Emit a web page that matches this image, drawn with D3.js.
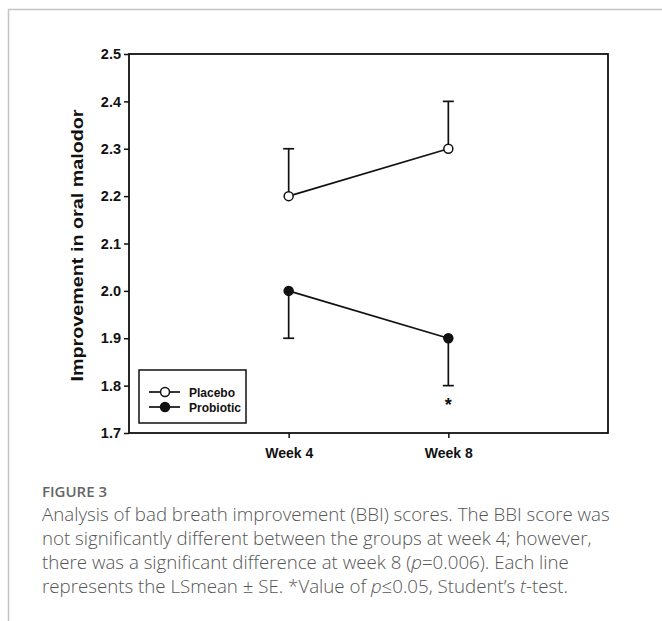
<!DOCTYPE html>
<html>
<head>
<meta charset="utf-8">
<script src="https://cdn.jsdelivr.net/npm/d3@7"></script>
<style>
  html, body { margin: 0; padding: 0; background: #fff; }
  svg { display: block; }
</style>
</head>
<body>
<svg id="chart" width="662" height="621"></svg>
<script>
const weeks = ["Week 4", "Week 8"];
const weekPos = [1, 2];
const placeboMean = [2.2, 2.3];
const placeboSE = [0.1, 0.1];
const probioticMean = [2.0, 1.9];
const probioticSE = [0.1, 0.1];
const yTicks = [1.7, 1.8, 1.9, 2.0, 2.1, 2.2, 2.3, 2.4, 2.5];
const seriesNames = ["Placebo", "Probiotic"];
const captionTitle = "FIGURE 3";

const svg = d3.select("#chart");

// outer figure frame
svg.append("path").attr("d", "M8.5,621 V9.5 H662")
  .attr("fill", "none").attr("stroke", "#c4c4c4").attr("stroke-width", 1.5);

const L = 129, R = 608, T = 54, B = 433;
const x = d3.scaleLinear().domain([0, 3]).range([L, R]);
const y = d3.scaleLinear().domain([1.7, 2.5]).range([B, T]);

const font = "Liberation Sans, Arial, sans-serif";

// frame box
svg.append("rect").attr("x", L).attr("y", T).attr("width", R - L).attr("height", B - T)
  .attr("fill", "none").attr("stroke", "#111").attr("stroke-width", 1.8);

// y axis
const yAxis = svg.append("g").attr("transform", `translate(${L},0)`)
  .call(d3.axisLeft(y).tickValues(yTicks).tickFormat(d3.format(".1f")).tickSize(5).tickPadding(3));
yAxis.select(".domain").remove();
yAxis.selectAll("line").attr("stroke", "#111").attr("stroke-width", 1.5);
yAxis.selectAll("text").style("font-family", font).style("font-size", "14.5px").style("font-weight", "bold").attr("fill", "#111");

// x axis
const xAxis = svg.append("g").attr("transform", `translate(0,${B})`)
  .call(d3.axisBottom(x).tickValues(weekPos).tickFormat((d, i) => weeks[i]).tickSize(5).tickPadding(10));
xAxis.select(".domain").remove();
xAxis.selectAll("line").attr("stroke", "#111").attr("stroke-width", 1.5);
xAxis.selectAll("text").style("font-family", font).style("font-size", "14px").style("font-weight", "bold").attr("fill", "#111");

// y title
svg.append("text")
  .attr("transform", `translate(${83},${(T + B) / 2 + 2}) rotate(-90)`)
  .attr("text-anchor", "middle")
  .style("font-family", font).style("font-size", "16px").style("font-weight", "bold").attr("fill", "#111")
  .attr("textLength", 272).attr("lengthAdjust", "spacingAndGlyphs")
  .text("Improvement in oral malodor");

const series = [
  { name: seriesNames[0], mean: placeboMean, se: placeboSE, dir: -1, fill: "#fff" },
  { name: seriesNames[1], mean: probioticMean, se: probioticSE, dir: 1, fill: "#111" }
];

const line = d3.line().x((d, i) => x(weekPos[i])).y(d => y(d));
const cap = 5.5;

series.forEach(s => {
  const g = svg.append("g");
  s.mean.forEach((m, i) => {
    const end = s.dir < 0 ? m + s.se[i] : m - s.se[i];
    g.append("line").attr("x1", x(weekPos[i])).attr("x2", x(weekPos[i]))
      .attr("y1", y(m)).attr("y2", y(end)).attr("stroke", "#111").attr("stroke-width", 1.7);
    g.append("line").attr("x1", x(weekPos[i]) - cap).attr("x2", x(weekPos[i]) + cap)
      .attr("y1", y(end)).attr("y2", y(end)).attr("stroke", "#111").attr("stroke-width", 1.7);
  });
  g.append("path").attr("d", line(s.mean)).attr("fill", "none").attr("stroke", "#111").attr("stroke-width", 1.7);
  s.mean.forEach((m, i) => {
    g.append("circle").attr("cx", x(weekPos[i])).attr("cy", y(m)).attr("r", 4.5)
      .attr("fill", s.fill).attr("stroke", "#111").attr("stroke-width", 1.5);
  });
});

// significance asterisk
svg.append("text").attr("x", x(weekPos[1])).attr("y", y(probioticMean[1] - probioticSE[1]) + 25)
  .attr("text-anchor", "middle").style("font-family", font).style("font-size", "18px").style("font-weight", "bold")
  .attr("fill", "#111").text("*");

// legend
const lg = svg.append("g");
lg.append("rect").attr("x", 139).attr("y", 370).attr("width", 107).attr("height", 53)
  .attr("fill", "#fff").attr("stroke", "#111").attr("stroke-width", 1.5);
series.forEach((s, i) => {
  const ly = 392 + i * 15;
  lg.append("line").attr("x1", 149).attr("x2", 180).attr("y1", ly).attr("y2", ly)
    .attr("stroke", "#111").attr("stroke-width", 1.7);
  lg.append("circle").attr("cx", 165).attr("cy", ly).attr("r", 4.5)
    .attr("fill", s.fill).attr("stroke", "#111").attr("stroke-width", 1.5);
  lg.append("text").attr("x", 189).attr("y", ly + 4.5)
    .style("font-family", font).style("font-size", "12px").style("font-weight", "bold").attr("fill", "#111")
    .text(s.name);
});

// caption
const capFont = "Open Sans, Noto Sans, sans-serif";
svg.append("text").attr("x", 42).attr("y", 497)
  .style("font-family", capFont).style("font-size", "15px").style("font-weight", 600).attr("fill", "#666")
  .text(captionTitle);

const capLines = [
  [["Analysis of bad breath improvement (BBI) scores. The BBI score was", false]],
  [["not significantly different between the groups at week 4; however,", false]],
  [["there was a significant difference at week 8 (", false], ["p", true], ["=0.006). Each line", false]],
  [["represents the LSmean ± SE. *Value of ", false], ["p", true], ["≤0.05, Student’s ", false], ["t", true], ["-test.", false]]
];
capLines.forEach((segs, i) => {
  const t = svg.append("text").attr("x", 42).attr("y", 521 + i * 24)
    .style("font-family", capFont).style("font-size", "18.7px").style("font-weight", 300).attr("fill", "#555");
  segs.forEach(([txt, it]) => {
    t.append("tspan").style("font-style", it ? "italic" : "normal").text(txt);
  });
});
</script>
</body>
</html>
